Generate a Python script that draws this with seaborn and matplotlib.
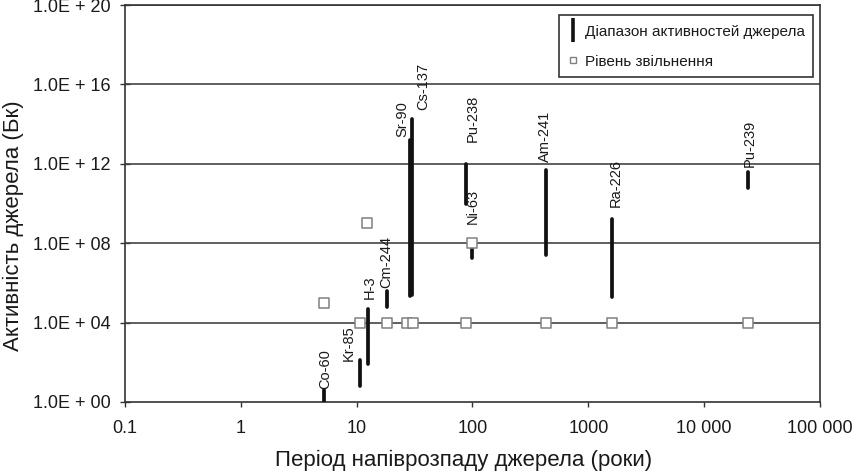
import numpy as np
import pandas as pd
import matplotlib
matplotlib.use("Agg")
import matplotlib.pyplot as plt
from matplotlib.lines import Line2D
from matplotlib.ticker import FixedLocator, FixedFormatter, NullLocator
import seaborn as sns

# ---------------- data ----------------
nuclides = ["Co-60", "Kr-85", "H-3", "Cm-244", "Sr-90", "Cs-137",
            "Pu-238", "Ni-63", "Am-241", "Ra-226", "Pu-239"]
half_life = [5.27, 10.76, 12.5, 18.1, 28.8, 30.2, 87.7, 100, 432, 1600, 24100]
activity_low = [1.0, 6.6, 80, 6.3e4, 2.1e5, 2.4e5, 9.0e9, 1.8e7, 2.5e7, 1.9e5, 6.0e10]
activity_high = [4.0, 1.3e2, 5.1e4, 4.0e5, 1.6e13, 1.9e14, 1.0e12, 5.4e7, 4.7e11, 1.6e9, 3.7e11]
exempt_half_life = [5.27, 10.6, 12.3, 18.1, 27.0, 30.5, 87.7, 100, 432, 1600, 24100]
exemption_level = [1e5, 1e4, 1e9, 1e4, 1e4, 1e4, 1e4, 1e8, 1e4, 1e4, 1e4]

x_ticks = [0.1, 1, 10, 100, 1000, 10000, 100000]
x_tick_labels = ["0.1", "1", "10", "100", "1000", "10 000", "100 000"]
y_ticks = [1e0, 1e4, 1e8, 1e12, 1e16, 1e20]
y_tick_labels = ["1.0E + 00", "1.0E + 04", "1.0E + 08", "1.0E + 12", "1.0E + 16", "1.0E + 20"]

x_label = "Період напіврозпаду джерела (роки)"
y_label = "Активність джерела (Бк)"
legend_range = "Діапазон активностей джерела"
legend_exempt = "Рівень звільнення"

# label offsets (points) relative to the top of each range bar
label_dx = [0.5, -8, 1.2, 0, -5.5, 8, 4.8, 0.4, -0.5, 3.0, 0.7]
label_dy = [1, -1, 7, 2, 2, 6, 16, 18, 6, 9, 4]

df_range = pd.DataFrame({"nuclide": nuclides, "half_life": half_life,
                         "low": activity_low, "high": activity_high})
df_ex = pd.DataFrame({"half_life": exempt_half_life, "level": exemption_level})

# ---------------- style ----------------
sns.set_theme(style="white")
plt.rcParams["font.family"] = ["Liberation Sans", "DejaVu Sans"]
text_color = "#1a1a1a"

fig = plt.figure(figsize=(8.54, 4.75), dpi=100)
ax = fig.add_axes([125 / 854, 1 - 402 / 475, 695 / 854, 397 / 475])
ax.set_xscale("log")
ax.set_yscale("log")
ax.set_xlim(0.1, 100000)
ax.set_ylim(1, 1e20)

# horizontal grid lines
for yv in y_ticks[1:]:
    ax.axhline(yv, color="#444444", lw=1.2, zorder=1)

# range bars
lc = ax.vlines(df_range["half_life"], df_range["low"], df_range["high"],
               colors="#111111", linewidth=2.7, zorder=3)
lc.set_capstyle("round")

# exemption level squares
sns.scatterplot(data=df_ex, x="half_life", y="level", marker="s", s=42,
                facecolor="white", edgecolor="#808080", linewidth=1.1,
                ax=ax, zorder=4, legend=False)

# labels
for name, hl, hi, dx, dy in zip(nuclides, half_life, activity_high, label_dx, label_dy):
    ax.annotate(name, xy=(hl, hi), xytext=(dx, dy), textcoords="offset points",
                rotation=90, ha="center", va="bottom", fontsize=10.5,
                color=text_color, zorder=5)

# axes
ax.xaxis.set_major_locator(FixedLocator(x_ticks))
ax.xaxis.set_major_formatter(FixedFormatter(x_tick_labels))
ax.xaxis.set_minor_locator(NullLocator())
ax.yaxis.set_major_locator(FixedLocator(y_ticks))
ax.yaxis.set_major_formatter(FixedFormatter(y_tick_labels))
ax.yaxis.set_minor_locator(NullLocator())
ax.tick_params(axis="x", direction="out", length=3.6, width=1, color="#333333",
               labelsize=13, labelcolor=text_color, pad=9.5, bottom=True)
ax.tick_params(axis="y", direction="inout", length=7.2, width=1, color="#333333",
               labelsize=13, labelcolor=text_color, pad=7.0, left=True)
for s in ax.spines.values():
    s.set_color("#333333")
    s.set_linewidth(1.2)

ax.set_xlabel(x_label, fontsize=16, color=text_color)
ax.set_ylabel(y_label, fontsize=16, color=text_color)
ax.xaxis.set_label_coords(0.487, -0.121)
ax.yaxis.set_label_coords(-0.145, 0.445)

handles = [
    Line2D([], [], color="#111111", marker="|", linestyle="none",
           markersize=17, markeredgewidth=2.6),
    Line2D([], [], color="#808080", marker="s", linestyle="none",
           markersize=5, markerfacecolor="white", markeredgewidth=1.0),
]
leg = ax.legend(handles, [legend_range, legend_exempt], loc="upper right",
                bbox_to_anchor=(0.990, 0.975), borderaxespad=0,
                fontsize=11, frameon=True,
                fancybox=False, framealpha=1, edgecolor="#333333",
                handlelength=0.7, handleheight=1.2, handletextpad=0.43,
                borderpad=0.55, labelspacing=0.9)
leg.get_frame().set_linewidth(1.2)
for t in leg.get_texts():
    t.set_color(text_color)

fig.savefig("out.png", dpi=100)
